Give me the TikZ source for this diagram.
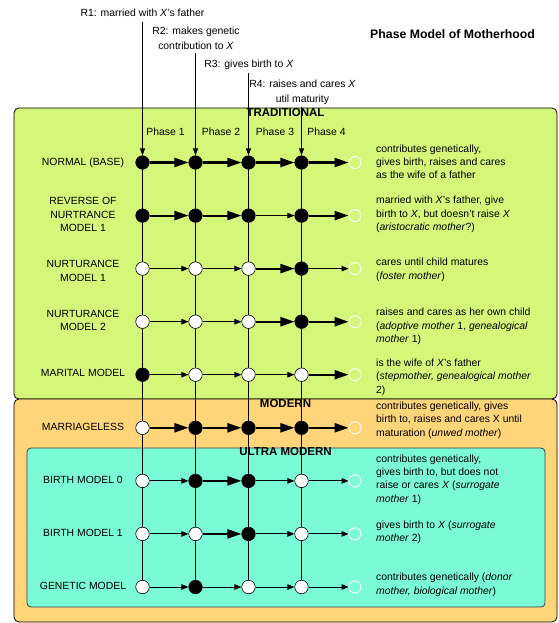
\documentclass[tikz,border=0pt]{standalone}
\usepackage{fontspec}
\setmainfont{Liberation Sans}
\usetikzlibrary{arrows.meta}
\definecolor{tradgreen}{HTML}{D4F77A}
\definecolor{modorange}{HTML}{FFD57A}
\definecolor{ultracyan}{HTML}{7AFAD6}
\pgfdeclarelayer{boxes}
\pgfdeclarelayer{lines}
\pgfsetlayers{boxes,lines,main}
\begin{document}
\begin{tikzpicture}[x=1pt,y=-1pt,
  every node/.style={font=\fontsize{10.4}{13.4}\selectfont, inner sep=0pt},
  dot/.style={circle, minimum size=13.5pt, draw=black, line width=0.6pt},
  edot/.style={circle, minimum size=12pt, draw=white, line width=0.9pt},
  thk/.style={line width=2.2pt, -{Triangle[length=14pt,width=9pt]}},
  thn/.style={line width=0.9pt, -{Triangle[length=7pt,width=5.5pt]}},
  rarrow/.style={line width=0.9pt, -{Triangle[length=7pt,width=5pt]}},
  vline/.style={line width=0.9pt},
  lbl/.style={align=center},
  desc/.style={align=left, anchor=west},
  sect/.style={font=\fontsize{11.5}{13}\selectfont\bfseries},
]
\useasboundingbox (0,0) rectangle (558,623);

% section boxes and labels
\begin{pgfonlayer}{boxes}
\fill[white] (0,0) rectangle (558,623);
\draw[fill=tradgreen, rounded corners=5pt, line width=0.8pt] (14,108) rectangle (557,399);
\draw[fill=modorange, rounded corners=5pt, line width=0.8pt] (14,399) rectangle (557,622);
\draw[fill=ultracyan, draw=black!75, rounded corners=4pt, line width=0.8pt] (27,448) rectangle (545,607);
\node[sect] (trad) at (285.5,113) {TRADITIONAL};
\node[sect] (mod) at (285.5,404) {MODERN};
\node[sect] (ultra) at (285.5,452) {ULTRA MODERN};
\end{pgfonlayer}

% title
\node[font=\fontsize{12.3}{14}\selectfont\bfseries, anchor=west] (title) at (370,34) {Phase Model of Motherhood};

% role labels
\node[lbl] (r1) at (142.5,12.5) {R1: married with \textit{X}'s father};
\node[lbl, font=\fontsize{10.4}{14.5}\selectfont] (r2) at (196,38.5) {R2: makes genetic\\contribution to \textit{X}};
\node[lbl] (r3) at (249,65) {R3: gives birth to \textit{X}};
\node[lbl, font=\fontsize{10.4}{14.5}\selectfont] (r4) at (302.5,92.5) {R4: raises and cares \textit{X}\\util maturity};
\coordinate (r1s) at (142.5,22);
\coordinate (r2s) at (195.5,53);
\coordinate (r3s) at (248.5,73);
\coordinate (r4s) at (301.5,107);

% phase labels
\node (ph1) at (165.5,132) {Phase 1};
\node (ph2) at (221,132) {Phase 2};
\node (ph3) at (275,132) {Phase 3};
\node (ph4) at (326.5,132) {Phase 4};

% dots
\foreach \r/\y/\a/\b/\c/\d in {
  1/162.5/black/black/black/black,
  2/215.6/black/black/black/black,
  3/268.6/white/white/white/black,
  4/321.7/white/white/white/black,
  5/374.7/black/white/white/white,
  6/427.8/white/black/black/black,
  7/480.9/white/black/black/white,
  8/533.9/white/white/black/white,
  9/587/white/black/white/white}{
  \node[dot, fill=\a] (n\r-1) at (142.5,\y) {};
  \node[dot, fill=\b] (n\r-2) at (195.5,\y) {};
  \node[dot, fill=\c] (n\r-3) at (248.5,\y) {};
  \node[dot, fill=\d] (n\r-4) at (301.5,\y) {};
  \node[edot] (n\r-5) at (355,\y) {};
}

% horizontal arrows
\foreach \r/\p/\q/\s/\t in {
  1/thk/thk/thk/thk,
  2/thk/thk/thn/thk,
  3/thn/thn/thk/thn,
  4/thn/thn/thk/thk,
  5/thn/thn/thn/thk,
  6/thk/thk/thk/thk,
  7/thn/thk/thn/thn,
  8/thn/thk/thn/thn,
  9/thn/thn/thn/thn}{
  \draw[\p] (n\r-1) -- (n\r-2);
  \draw[\q] (n\r-2) -- (n\r-3);
  \draw[\s] (n\r-3) -- (n\r-4);
  \draw[\t] (n\r-4) -- (n\r-5);
}

% role arrows
\draw[rarrow] (r1s) -- (n1-1);
\draw[rarrow] (r2s) -- (n1-2);
\draw[rarrow] (r3s) -- (n1-3);
\draw[rarrow] (r4s) -- (n1-4);

% vertical grid lines
\begin{pgfonlayer}{lines}
\foreach \c in {1,2,3,4}{
  \draw[vline] (n1-\c.center) -- (n9-\c.center);
}
\end{pgfonlayer}

% row labels
\node[lbl] (l1) at (83,163) {NORMAL (BASE)};
\node[lbl] (l2) at (83,214.5) {REVERSE OF\\NURTRANCE\\MODEL 1};
\node[lbl] (l3) at (83,271) {NURTURANCE\\MODEL 1};
\node[lbl] (l4) at (83,320.5) {NURTURANCE\\MODEL 2};
\node[lbl] (l5) at (83,373) {MARITAL MODEL};
\node[lbl] (l6) at (83,426.7) {MARRIAGELESS};
\node[lbl] (l7) at (83,480) {BIRTH MODEL 0};
\node[lbl] (l8) at (83,533) {BIRTH MODEL 1};
\node[lbl] (l9) at (83,585.7) {GENETIC MODEL};

% descriptions
\node[desc] (d1) at (376,161.7) {contributes genetically,\\gives birth, raises and cares\\as the wife of a father};
\node[desc] (d2) at (376,214.7) {married with \textit{X}'s father, give\\birth to \textit{X}, but doesn't raise \textit{X}\\(\textit{aristocratic mother}?)};
\node[desc] (d3) at (376,270) {cares until child matures\\(\textit{foster mother})};
\node[desc] (d4) at (376,326.7) {raises and cares as her own child\\(\textit{adoptive mother} 1, \textit{genealogical}\\\textit{mother} 1)};
\node[desc] (d5) at (376,377) {is the wife of \textit{X}'s father\\(\textit{stepmother, genealogical mother}\\2)};
\node[desc] (d6) at (376,420) {contributes genetically, gives\\birth to, raises and cares X until\\maturation (\textit{unwed mother})};
\node[desc] (d7) at (376,479.5) {contributes genetically,\\gives birth to, but does not\\raise or cares \textit{X} (\textit{surrogate}\\\textit{mother} 1)};
\node[desc] (d8) at (376,532.5) {gives birth to \textit{X} (\textit{surrogate}\\\textit{mother} 2)};
\node[desc] (d9) at (376,585) {contributes genetically (\textit{donor}\\\textit{mother, biological mother})};
\end{tikzpicture}
\end{document}
